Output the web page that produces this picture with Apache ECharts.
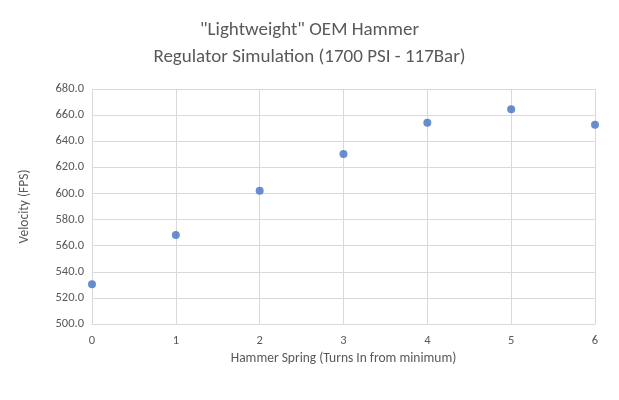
<!DOCTYPE html><html><head><meta charset="utf-8">
<script src="https://cdn.jsdelivr.net/npm/echarts@6/dist/echarts.min.js"></script>
<style>html,body{margin:0;padding:0;background:#fff}#c{width:619px;height:400px}</style></head><body>
<div id="c"></div>
<script>
const turns=[0,1,2,3,4,5,6];
const velocity=[530.5,568.2,602.0,630.3,654.2,664.4,652.6];
const chart=echarts.init(document.getElementById('c'));
const font='Calibri, Carlito, "Open Sans", sans-serif';
chart.setOption({
  backgroundColor:'#fff',
  title:{text:'"Lightweight" OEM Hammer\nRegulator Simulation (1700 PSI - 117Bar)',left:'center',top:12,
    textStyle:{fontFamily:font,fontSize:19,fontWeight:'normal',color:'#595959',lineHeight:27}},
  grid:{left:92,right:24,top:89,bottom:76},
  xAxis:{type:'value',min:0,max:6,interval:1,
    name:'Hammer Spring (Turns In from minimum)',nameLocation:'middle',nameGap:28,
    nameTextStyle:{fontFamily:font,fontSize:13.5,color:'#595959'},
    axisLine:{show:true,lineStyle:{color:'#d9d9d9'}},axisTick:{show:false},
    axisLabel:{fontFamily:font,fontSize:12.5,color:'#595959',margin:10},
    splitLine:{show:true,lineStyle:{color:'#d9d9d9'}}},
  yAxis:{type:'value',min:500,max:680,interval:20,
    name:'Velocity (FPS)',nameLocation:'middle',nameGap:60,
    nameTextStyle:{fontFamily:font,fontSize:13.5,color:'#595959'},
    axisLine:{show:false},axisTick:{show:false},
    axisLabel:{fontFamily:font,fontSize:12.5,color:'#595959',formatter:v=>v.toFixed(1)},
    splitLine:{lineStyle:{color:'#d9d9d9'}}},
  series:[{type:'scatter',data:turns.map((t,i)=>[t,velocity[i]]),symbolSize:8,
    itemStyle:{color:'#4472c4'}}]
});
</script></body></html>
